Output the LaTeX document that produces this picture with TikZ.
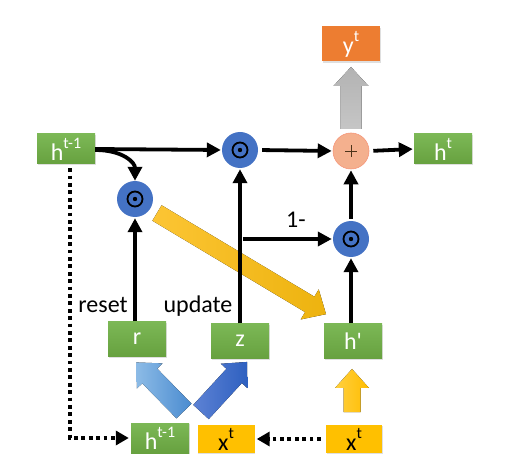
\documentclass[tikz,border=0pt]{standalone}
\usepackage{fontspec}
\setmainfont{Carlito}
\newfontfamily\plainfont{Carlito}
\usetikzlibrary{arrows.meta,shadows}
\definecolor{ggreenT}{HTML}{7CB856}
\definecolor{ggreenB}{HTML}{67A13F}
\definecolor{bblue}{HTML}{4472C4}
\definecolor{yyellow}{HTML}{FFC000}
\definecolor{oorange}{HTML}{ED7D31}
\definecolor{ssalmon}{HTML}{F4B08E}
\definecolor{lbTail}{HTML}{8CBBE6}
\definecolor{lbHead}{HTML}{4A8BD0}
\definecolor{dbTail}{HTML}{5D82D4}
\definecolor{dbHead}{HTML}{2E60C0}
\definecolor{ydTail}{HTML}{FCC534}
\definecolor{ydHead}{HTML}{EDB30F}
\newcommand{\sups}[1]{\raisebox{0.5em}{\fontsize{16}{16}\selectfont #1}}
\newcommand{\fatarr}[6]{%
  \begin{scope}[shift={#2}, rotate=#3, x=1pt, y=1pt]
    \fill[#1] (0,-#5) -- ({#4-19},-#5) -- ({#4-19},-#6) -- (#4,0) -- ({#4-19},#6) -- ({#4-19},#5) -- (0,#5) -- cycle;
  \end{scope}}
\begin{document}
\begin{tikzpicture}[x=1pt,y=-1pt,
  box/.style={minimum width=58pt, minimum height=30pt, inner sep=0pt,
    font=\fontsize{24}{24}\selectfont,
    drop shadow={shadow xshift=0.8pt, shadow yshift=-1.2pt, opacity=0.25}},
  gbox/.style={box, top color=ggreenT, bottom color=ggreenB, text=white},
  ybox/.style={box, fill=yyellow, text=black, drop shadow={opacity=0}},
  obox/.style={box, fill=oorange, text=white},
  odot/.style={circle, fill=bblue, minimum size=36pt, inner sep=0pt,
    path picture={\draw[black, line width=1.8pt] (path picture bounding box.center) circle (7.5pt);
      \fill[black] (path picture bounding box.center) circle (2.2pt);}},
  plusc/.style={circle, fill=ssalmon, draw=ssalmon!85!red, line width=0.6pt, minimum size=36pt, inner sep=0pt,
    path picture={\draw[line width=0.7pt, draw=black!60!brown]
      ([xshift=-6pt]path picture bounding box.center) -- ([xshift=6pt]path picture bounding box.center)
      ([yshift=-6pt]path picture bounding box.center) -- ([yshift=6pt]path picture bounding box.center);}},
  conn/.style={line width=3.8pt, -{Triangle[length=14pt,width=14pt]}},
  dotline/.style={line width=3.8pt, dash pattern=on 3.8pt off 3.6pt, -{Triangle[length=13pt,width=14pt]}},
  lbl/.style={font=\fontsize{24}{24}\selectfont, text=black, inner sep=0pt}
]
\useasboundingbox (0,0) rectangle (512,473);

% fat arrows (drawn first)
\fatarr{top color=gray!60, bottom color=gray!45}{(351,129)}{90}{62}{10.5}{17.5}
\fatarr{left color=ydTail, right color=ydHead}{(157,213)}{-30.9}{197}{9}{17.5}
\fatarr{left color=lbTail, right color=lbHead}{(184,411)}{134.4}{68}{10.5}{18}
\fatarr{left color=dbTail, right color=dbHead}{(201,412)}{47.4}{68}{10.5}{18}
\fatarr{left color=yyellow!75!white, right color=yyellow!95!orange}{(352,412)}{90}{43}{8.5}{17}

% nodes
\node[gbox] (h1) at (66,149) {h\sups{t-1}};
\node[obox, minimum height=35pt] (y) at (351,44) {y\sups{t}};
\node[gbox] (ht) at (443,149) {h\sups{t}};
\node[odot] (o1) at (240,150) {};
\node[plusc] (pl) at (351,151) {};
\node[odot] (o2) at (135,199) {};
\node[odot] (o3) at (351,239) {};
\node[gbox, minimum height=35pt] (r) at (137,339) {r};
\node[gbox, minimum height=35pt] (z) at (240,341) {z};
\node[gbox, minimum height=35pt] (hp) at (353,341) {\plainfont h'};
\node[gbox] (h1b) at (160,438) {h\sups{t-1}};
\node[ybox, minimum width=57pt, minimum height=28pt] (xl) at (226,439) {x\sups{t}};
\node[ybox, minimum width=56pt, minimum height=28pt] (xr) at (354,439) {x\sups{t}};

\node[lbl] (lr) at (103,305) {reset};
\node[lbl] (lu) at (198,306) {update};
\node[lbl] (l1) at (296,220) {1-};

% connectors
\draw[conn, shorten >=1pt] (h1.east) -- (o1.west);
\draw[conn, shorten <=4pt, shorten >=1pt] (o1.east) -- (pl.west);
\draw[conn, shorten <=4pt, shorten >=1pt] (pl.east) -- (ht.west);
\draw[conn] ([yshift=-1pt]h1.east) .. controls +(28,0) and +(0,-18) .. (o2.north);
\draw[conn, shorten >=1pt] (r.north -| o2) -- (o2.south);
\draw[conn, shorten >=1pt] (z.north) -- (o1.south);
\coordinate (br) at (240,239);
\draw[conn, shorten <=3pt, shorten >=1pt] (br) -- (o3.west);
\draw[conn, shorten <=2pt, shorten >=1pt] (o3.north) -- (pl.south);
\draw[conn, shorten >=1pt] (hp.north -| o3) -- (o3.south);
\draw[dotline, shorten <=4pt, shorten >=2pt] ([xshift=4pt]h1.south) |- (h1b.west);
\draw[dotline, shorten <=5pt, shorten >=2pt] (xr.west) -- (xl.east);
\end{tikzpicture}
\end{document}
